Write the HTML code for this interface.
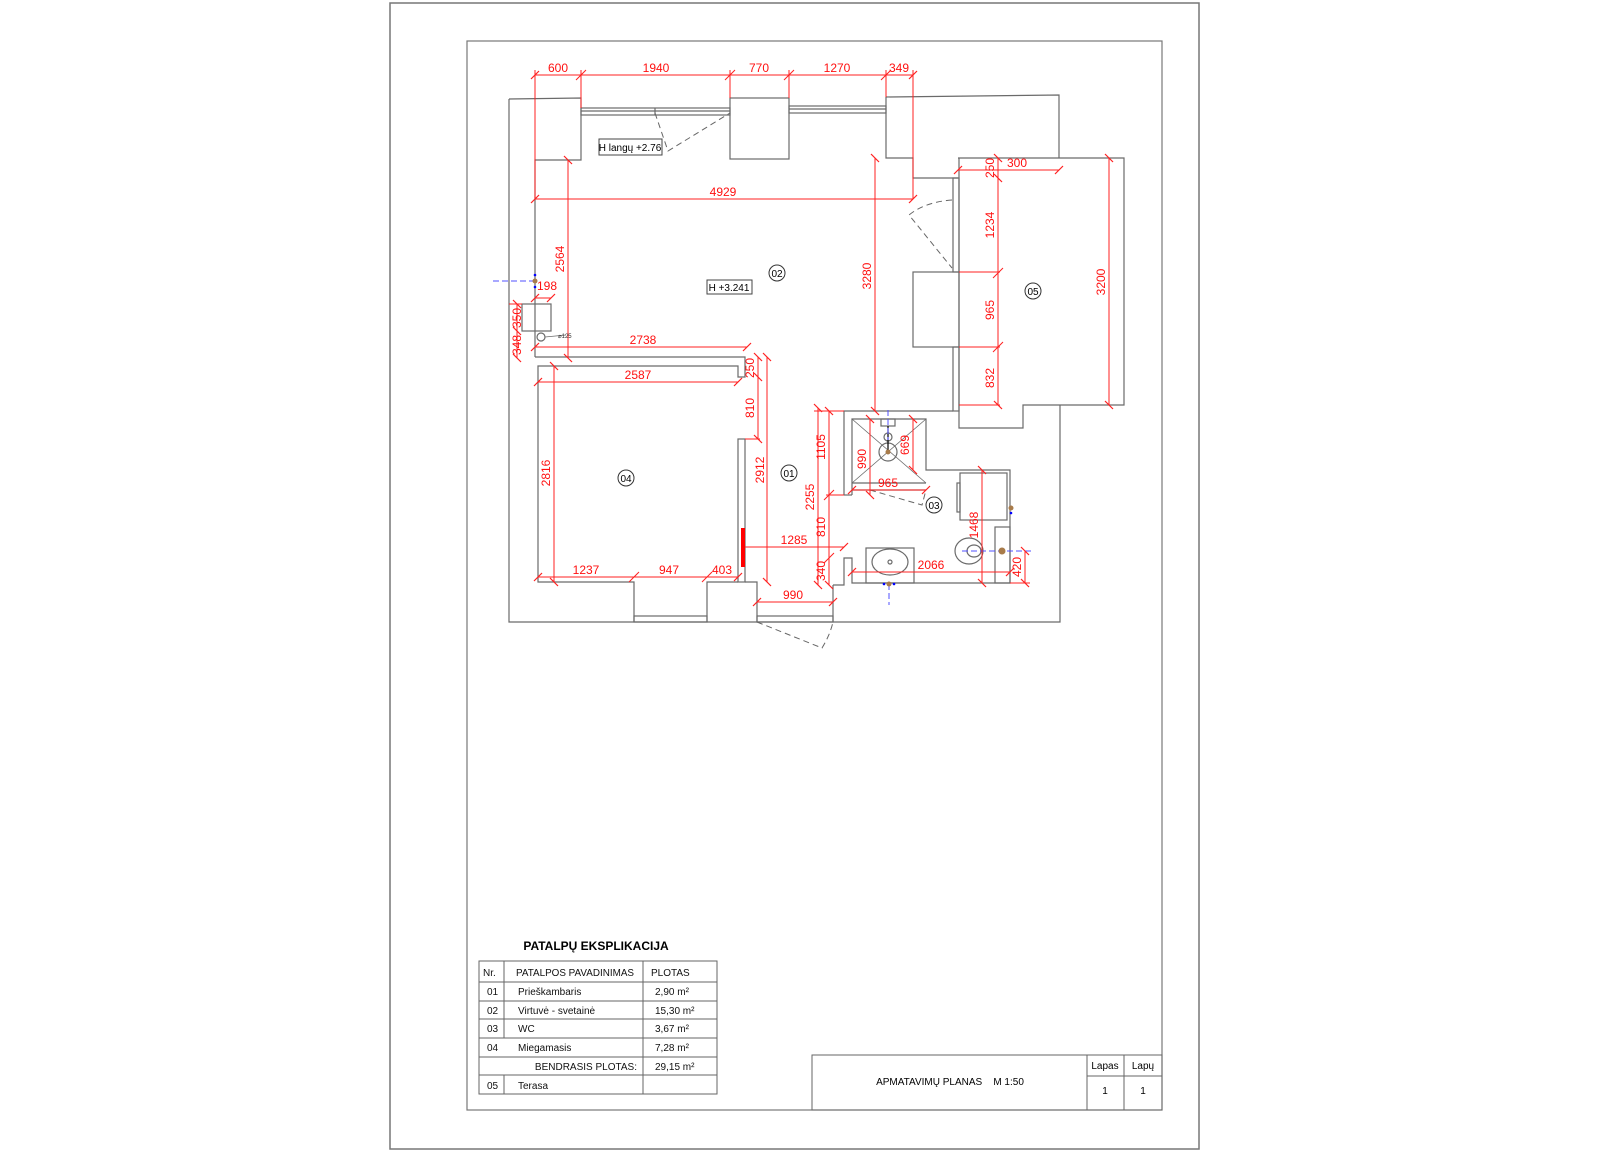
<!DOCTYPE html>
<html><head><meta charset="utf-8"><style>
html,body{margin:0;padding:0;background:#fff;}
svg{display:block;}
text{font-family:"Liberation Sans",sans-serif;}
.w{stroke:#6a6a6a;stroke-width:1.2;fill:none;}
.d{stroke:#ff2020;stroke-width:1;fill:none;}
.dt{fill:#ff1010;font-size:12px;text-anchor:middle;}
.ds{stroke:#666;stroke-width:1;fill:none;stroke-dasharray:6,4;}
.b{stroke:#5050ff;stroke-width:1;fill:none;stroke-dasharray:6,3;}
.t{font-size:11px;fill:#111;}
.tt{font-size:10px;fill:#111;}
.c{fill:#fff;stroke:#333;stroke-width:1;}
</style></head><body>
<svg width="1600" height="1154" viewBox="0 0 1600 1154" xmlns="http://www.w3.org/2000/svg">
<defs>
<marker id="k" markerWidth="10" markerHeight="10" refX="5" refY="5" orient="auto" markerUnits="userSpaceOnUse">
<path d="M1,9 L9,1" stroke="#ff2020" stroke-width="1.2"/></marker>
</defs>
<rect x="390" y="3" width="809" height="1146" fill="none" stroke="#777" stroke-width="1.5"/>
<rect x="467" y="41" width="695" height="1069" fill="none" stroke="#777" stroke-width="1.2"/>

<g class="w">
<polyline points="509,99 509,622 1060,622 1060,405"/>
<polyline points="509,99 581,98 581,160 535,160 535,357"/>
<rect x="581" y="108" width="149" height="7"/>
<line x1="581" y1="111" x2="730" y2="111"/>
<line x1="655" y1="108" x2="655" y2="115"/>
<rect x="730" y="98" width="59" height="61"/>
<rect x="789" y="106" width="97" height="7"/>
<line x1="789" y1="109" x2="886" y2="109"/>
<polyline points="886,97 1059,95 1059,158"/>
<polyline points="886,97 886,158 913,158 913,178 958,178"/>
<polyline points="958,158 1124,158 1124,405 1023,405 1023,428 959,428 959,158"/>
<rect x="953" y="178" width="6" height="94"/>
<rect x="953" y="347" width="6" height="64"/>
<rect x="913" y="272" width="46" height="75"/>
<rect x="522" y="304" width="29" height="27"/>
<circle cx="541" cy="337" r="4"/>
<line x1="545" y1="337" x2="566" y2="335" stroke-width="0.8"/>
<polyline points="535,357 745,357 745,377 738,377 738,366 538,366 538,582 634,582 634,622"/>
<polyline points="707,622 707,582 738,582"/>
<rect x="634" y="616" width="73" height="6"/>
<rect x="738" y="439" width="7" height="143"/>
<polyline points="745,582 757,582 757,622"/>
<rect x="757" y="616" width="76" height="6"/>
<line x1="833" y1="585" x2="833" y2="622"/>
<polyline points="844,495 844,411 953,411"/>
<polyline points="852,495 852,419 926,419 926,470 1010,470 1010,583 852,583 852,558 844,558 844,585 833,585"/>
<line x1="844" y1="495" x2="852" y2="495"/>
<line x1="852" y1="483" x2="926" y2="483"/>
<line x1="852" y1="490" x2="926" y2="490"/>
<line x1="852" y1="419" x2="926" y2="483" stroke-width="0.8"/>
<line x1="926" y1="419" x2="852" y2="483" stroke-width="0.8"/>
<circle cx="888" cy="452" r="9"/>
<circle cx="888" cy="437" r="4"/>
<rect x="881" y="419" width="14" height="7"/>
<line x1="888" y1="426" x2="888" y2="452" stroke="#000"/>
<rect x="866" y="548" width="48" height="35"/>
<ellipse cx="890" cy="562" rx="18" ry="13"/>
<circle cx="890" cy="562" r="2"/>
<rect x="960" y="473" width="47" height="47"/>
<rect x="957" y="483" width="3" height="29"/>
<rect x="995" y="527" width="15" height="56"/>
<ellipse cx="969" cy="551" rx="14" ry="13"/>
<ellipse cx="974" cy="551" rx="7" ry="6"/>
</g>
<path class="ds" d="M655,113 L668,151 L730,113"/>
<path class="ds" d="M952,200 Q925,202 909,215 L952,268"/>
<path class="ds" d="M757,622 L822,648 Q830,635 833,622"/>
<path class="ds" d="M870,490 L922,505 L926,490"/>
<line class="b" x1="493" y1="281" x2="535" y2="281"/>
<circle cx="535" cy="281" r="2.5" fill="#a87b4a"/>
<circle cx="535" cy="275" r="1.3" fill="#00f"/><circle cx="535" cy="287" r="1.3" fill="#00f"/>
<line class="b" x1="962" y1="551" x2="1033" y2="551"/>
<circle cx="1002" cy="551" r="3.5" fill="#a87b4a"/>
<circle cx="1011" cy="508" r="2.5" fill="#a87b4a"/><circle cx="1011" cy="513" r="1.3" fill="#00f"/>
<line class="b" x1="889" y1="584" x2="889" y2="605"/>
<circle cx="889" cy="584" r="2.5" fill="#a87b4a"/>
<circle cx="884" cy="584" r="1.3" fill="#00f"/><circle cx="894" cy="584" r="1.3" fill="#00f"/>
<line class="b" x1="888" y1="410" x2="888" y2="440"/>
<circle cx="888" cy="452" r="2.5" fill="#a87b4a"/>
<rect x="741" y="528" width="4" height="39" fill="#ff0000"/>

<g class="d">
<line x1="535" y1="75" x2="913" y2="75" marker-start="url(#k)" marker-end="url(#k)"/>
<path d="M576,80 L586,70 M725,80 L735,70 M784,80 L794,70 M881,80 L891,70"/>
<line x1="535" y1="70" x2="535" y2="199"/>
<line x1="581" y1="70" x2="581" y2="108"/>
<line x1="730" y1="70" x2="730" y2="98"/>
<line x1="789" y1="70" x2="789" y2="98"/>
<line x1="886" y1="70" x2="886" y2="97"/>
<line x1="913" y1="70" x2="913" y2="199"/>
<line x1="535" y1="199" x2="913" y2="199" marker-start="url(#k)" marker-end="url(#k)"/>
<line x1="568" y1="160" x2="568" y2="358" marker-start="url(#k)" marker-end="url(#k)"/>
<line x1="535" y1="298" x2="551" y2="298" marker-start="url(#k)" marker-end="url(#k)"/>
<line x1="517" y1="304" x2="517" y2="331" marker-start="url(#k)" marker-end="url(#k)"/>
<line x1="517" y1="331" x2="517" y2="358" marker-end="url(#k)"/>
<line x1="509" y1="304" x2="522" y2="304"/>
<line x1="535" y1="347" x2="747" y2="347" marker-start="url(#k)" marker-end="url(#k)"/>
<line x1="758" y1="357" x2="758" y2="377" marker-start="url(#k)" marker-end="url(#k)"/>
<line x1="758" y1="377" x2="758" y2="439" marker-end="url(#k)"/>
<line x1="745" y1="439" x2="760" y2="439"/>
<line x1="767" y1="357" x2="767" y2="582" marker-start="url(#k)" marker-end="url(#k)"/>
<line x1="538" y1="382" x2="738" y2="382" marker-start="url(#k)" marker-end="url(#k)"/>
<line x1="554" y1="366" x2="554" y2="582" marker-start="url(#k)" marker-end="url(#k)"/>
<line x1="538" y1="577" x2="738" y2="577" marker-start="url(#k)" marker-end="url(#k)"/>
<path d="M629,582 L639,572 M702,582 L712,572"/>
<line x1="745" y1="547" x2="844" y2="547" marker-end="url(#k)"/>
<line x1="757" y1="602" x2="833" y2="602" marker-start="url(#k)" marker-end="url(#k)"/>
<line x1="875" y1="158" x2="875" y2="411" marker-start="url(#k)" marker-end="url(#k)"/>
<line x1="958" y1="170" x2="1059" y2="170" marker-start="url(#k)" marker-end="url(#k)"/>
<line x1="998" y1="158" x2="998" y2="178" marker-start="url(#k)" marker-end="url(#k)"/>
<line x1="998" y1="178" x2="998" y2="405" marker-end="url(#k)"/>
<path d="M993,278 L1003,268 M993,352 L1003,342"/>
<line x1="959" y1="272" x2="1000" y2="272"/>
<line x1="959" y1="347" x2="1000" y2="347"/>
<line x1="959" y1="405" x2="1000" y2="405"/>
<line x1="1109" y1="158" x2="1109" y2="405" marker-start="url(#k)" marker-end="url(#k)"/>
<line x1="818" y1="408" x2="818" y2="585" marker-start="url(#k)" marker-end="url(#k)"/>
<line x1="829" y1="411" x2="829" y2="585" marker-start="url(#k)" marker-end="url(#k)"/>
<path d="M824,500 L834,490 M824,563 L834,553"/>
<line x1="814" y1="411" x2="844" y2="411"/>
<line x1="826" y1="495" x2="844" y2="495"/>
<line x1="870" y1="419" x2="870" y2="495" marker-start="url(#k)" marker-end="url(#k)"/>
<line x1="913" y1="419" x2="913" y2="470" marker-start="url(#k)" marker-end="url(#k)"/>
<line x1="852" y1="490" x2="926" y2="490" marker-start="url(#k)" marker-end="url(#k)"/>
<line x1="852" y1="572" x2="1010" y2="572" marker-start="url(#k)" marker-end="url(#k)"/>
<line x1="982" y1="470" x2="982" y2="583" marker-start="url(#k)" marker-end="url(#k)"/>
<line x1="1025" y1="551" x2="1025" y2="583" marker-start="url(#k)" marker-end="url(#k)"/>
<line x1="1010" y1="583" x2="1030" y2="583"/>
</g>
<g class="dt">
<text x="558" y="72">600</text>
<text x="656" y="72">1940</text>
<text x="759" y="72">770</text>
<text x="837" y="72">1270</text>
<text x="899" y="72">349</text>
<text x="723" y="196">4929</text>
<text x="547" y="290">198</text>
<text x="643" y="344">2738</text>
<text x="638" y="379">2587</text>
<text x="586" y="574">1237</text>
<text x="669" y="574">947</text>
<text x="722" y="574">403</text>
<text x="794" y="544">1285</text>
<text x="793" y="599">990</text>
<text x="888" y="487">965</text>
<text x="931" y="569">2066</text>
<text x="1017" y="167">300</text>
<text transform="translate(564,259) rotate(-90)">2564</text>
<text transform="translate(521,318) rotate(-90)">350</text>
<text transform="translate(521,345) rotate(-90)">348</text>
<text transform="translate(754,368) rotate(-90)">250</text>
<text transform="translate(754,408) rotate(-90)">810</text>
<text transform="translate(764,470) rotate(-90)">2912</text>
<text transform="translate(550,473) rotate(-90)">2816</text>
<text transform="translate(871,276) rotate(-90)">3280</text>
<text transform="translate(994,168) rotate(-90)">250</text>
<text transform="translate(994,225) rotate(-90)">1234</text>
<text transform="translate(994,310) rotate(-90)">965</text>
<text transform="translate(994,378) rotate(-90)">832</text>
<text transform="translate(1105,282) rotate(-90)">3200</text>
<text transform="translate(825,447) rotate(-90)">1105</text>
<text transform="translate(814,497) rotate(-90)">2255</text>
<text transform="translate(825,527) rotate(-90)">810</text>
<text transform="translate(825,571) rotate(-90)">340</text>
<text transform="translate(866,459) rotate(-90)">990</text>
<text transform="translate(909,445) rotate(-90)">669</text>
<text transform="translate(978,525) rotate(-90)">1468</text>
<text transform="translate(1021,567) rotate(-90)">420</text>
</g>
<text x="558" y="338" font-size="6" fill="#333">⌀125</text>

<rect x="599" y="139" width="63" height="16" fill="#fff" stroke="#444"/>
<text x="630" y="151" font-size="10" text-anchor="middle">H langų +2.76</text>
<rect x="707" y="280" width="45" height="14" fill="#fff" stroke="#444"/>
<text x="729" y="291" font-size="10" text-anchor="middle">H +3.241</text>
<g font-size="10" text-anchor="middle">
<circle class="c" cx="777" cy="273" r="8"/><text x="777" y="277">02</text>
<circle class="c" cx="1033" cy="291" r="8"/><text x="1033" y="295">05</text>
<circle class="c" cx="626" cy="478" r="8"/><text x="626" y="482">04</text>
<circle class="c" cx="789" cy="473" r="8"/><text x="789" y="477">01</text>
<circle class="c" cx="934" cy="505" r="8"/><text x="934" y="509">03</text>
</g>

<text x="596" y="950" font-size="12" font-weight="bold" text-anchor="middle">PATALPŲ EKSPLIKACIJA</text>
<g stroke="#666" stroke-width="1" fill="none">
<rect x="479" y="961" width="238" height="133"/>
<line x1="479" y1="982" x2="717" y2="982"/>
<line x1="479" y1="1001" x2="717" y2="1001"/>
<line x1="479" y1="1019" x2="717" y2="1019"/>
<line x1="479" y1="1038" x2="717" y2="1038"/>
<line x1="479" y1="1057" x2="717" y2="1057"/>
<line x1="479" y1="1075" x2="717" y2="1075"/>
<line x1="504" y1="961" x2="504" y2="1038"/>
<line x1="504" y1="1075" x2="504" y2="1094"/>
<line x1="643" y1="961" x2="643" y2="1094"/>
</g>
<g class="tt">
<text x="483" y="976">Nr.</text>
<text x="516" y="976" textLength="118" lengthAdjust="spacingAndGlyphs">PATALPOS PAVADINIMAS</text>
<text x="651" y="976">PLOTAS</text>
<text x="487" y="995">01</text><text x="518" y="995">Prieškambaris</text><text x="655" y="995">2,90 m²</text>
<text x="487" y="1014">02</text><text x="518" y="1014">Virtuvė - svetainė</text><text x="655" y="1014">15,30 m²</text>
<text x="487" y="1032">03</text><text x="518" y="1032">WC</text><text x="655" y="1032">3,67 m²</text>
<text x="487" y="1051">04</text><text x="518" y="1051">Miegamasis</text><text x="655" y="1051">7,28 m²</text>
<text x="637" y="1070" text-anchor="end">BENDRASIS PLOTAS:</text><text x="655" y="1070">29,15 m²</text>
<text x="487" y="1089">05</text><text x="518" y="1089">Terasa</text>
</g>
<g stroke="#666" stroke-width="1" fill="none">
<rect x="812" y="1055" width="350" height="55"/>
<line x1="1087" y1="1055" x2="1087" y2="1110"/>
<line x1="1124" y1="1055" x2="1124" y2="1110"/>
<line x1="1087" y1="1076" x2="1162" y2="1076"/>
</g>
<g font-size="10" text-anchor="middle">
<text x="950" y="1085">APMATAVIMŲ PLANAS &#160;&#160; M 1:50</text>
<text x="1105" y="1069">Lapas</text><text x="1143" y="1069">Lapų</text>
<text x="1105" y="1094">1</text><text x="1143" y="1094">1</text>
</g>
</svg>
</body></html>
